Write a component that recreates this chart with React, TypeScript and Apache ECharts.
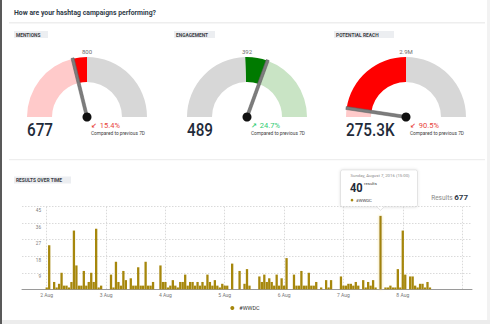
import React, { useEffect, useRef } from "react";
import * as echarts from "echarts";

// ---- data ----
const pageTitle = "How are your hashtag campaigns performing?";
const gaugeTitles = ["MENTIONS", "ENGAGEMENT", "POTENTIAL REACH"];
const gaugeValues = [677, 489, 275300];
const gaugeTargets = [800, 392, 2900000];
const gaugeMax = [1600, 800, 5800000];
const gaugeValueLabels = ["677", "489", "275.3K"];
const gaugeTargetLabels = ["800", "392", "2.9M"];
const gaugeChanges = [-15.4, 24.7, -90.5];
const compareLabel = "Compared to previous 7D";

const seriesName = "#WWDC";
const totalResults = 677;
const yTicks = [0, 9, 18, 27, 36, 45];
const dayLabels = ["2 Aug", "3 Aug", "4 Aug", "5 Aug", "6 Aug", "7 Aug", "8 Aug"];
const axisStartHour = "2016-08-01 14:00";
const axisHourCount = 183;
const resultsStartIndex = 10; // 2 Aug 00:00
// hourly results from 2 Aug 00:00
const hourlyResults = [
  1, 24, 0, 4, 1, 3, 9, 2, 2, 1, 4, 32, 13, 2, 2, 10, 2, 4, 9, 4, 33, 1, 2, 0,
  0, 0, 8, 1, 15, 4, 2, 10, 5, 0, 6, 2, 2, 12, 2, 2, 15, 2, 2, 4, 0, 0, 13, 4,
  4, 1, 2, 5, 2, 1, 4, 4, 8, 2, 4, 4, 2, 4, 2, 4, 2, 8, 4, 2, 5, 2, 1, 3, 2, 2,
  0, 14, 0, 0, 10, 0, 3, 11, 2, 0, 0, 0, 7, 4, 8, 4, 6, 4, 2, 8, 2, 6,
  2, 17, 0, 0, 8, 2, 2, 10, 2, 2, 9, 2, 2, 4, 0, 1, 0, 5, 1, 5, 0, 0, 0, 7,
  2, 2, 3, 3, 2, 4, 2, 0, 5, 1, 4, 2, 5, 1, 0, 40, 0, 1, 1, 2, 1, 1, 11, 1,
  32, 8, 0, 7, 7, 2, 1, 3, 3, 1, 4, 1,
];
const tooltipHour = "2016-08-07 15:00";
const tooltipDate = "Sunday, August 7, 2016 (15:00)";

const FONT = "Roboto, 'DejaVu Sans', sans-serif";

function pad(n: number) {
  return n < 10 ? "0" + n : "" + n;
}

function buildHours(): string[] {
  const [d, t] = axisStartHour.split(" ");
  const [y, m, day] = d.split("-").map(Number);
  const h = Number(t.split(":")[0]);
  const start = Date.UTC(y, m - 1, day, h);
  const out: string[] = [];
  for (let i = 0; i < axisHourCount; i++) {
    const dt = new Date(start + i * 3600000);
    out.push(
      `${dt.getUTCFullYear()}-${pad(dt.getUTCMonth() + 1)}-${pad(dt.getUTCDate())} ${pad(dt.getUTCHours())}:00`
    );
  }
  return out;
}

export default function App() {
  const ref = useRef<HTMLDivElement>(null);
  useEffect(() => {
    document.body.style.margin = "0";
    if (!ref.current) return;
    const chart = echarts.init(ref.current, undefined, { renderer: "svg" });
    const hours = buildHours();
    const gold = "#a6870c";
    const centers = [
      [87, 117],
      [247, 117],
      [406, 117],
    ];
    const gaugeSeries = gaugeValues.map((v, i) => {
      const M = gaugeMax[i];
      const t = gaugeTargets[i];
      const stops =
        v < t
          ? [
              [v / M, "#ffcaca"],
              [t / M, "#ff0000"],
              [1, "#d7d7d7"],
            ]
          : [
              [t / M, "#d7d7d7"],
              [v / M, "#007a00"],
              [1, "#c9e4c5"],
            ];
      return {
        type: "gauge",
        center: centers[i],
        radius: 60,
        startAngle: 180,
        endAngle: 0,
        min: 0,
        max: M,
        axisLine: { lineStyle: { width: 25, color: stops } },
        splitLine: { show: false },
        axisTick: { show: false },
        axisLabel: { show: false },
        pointer: {
          icon: "rect",
          width: 3,
          length: "101%",
          offsetCenter: [0, 0],
          itemStyle: { color: "#7d7d7d", borderColor: "#5e5e5e", borderWidth: 0.5 },
        },
        anchor: { show: true, showAbove: true, size: 9, itemStyle: { color: "#111" } },
        title: { show: false },
        detail: { show: false },
        data: [{ value: v }],
      };
    });

    const barData = hourlyResults.map((v, i) => {
      const cat = hours[resultsStartIndex + i];
      if (cat === tooltipHour) {
        return {
          value: [cat, v],
          itemStyle: { color: "#a0820a", shadowBlur: 3, shadowColor: "rgba(240,222,140,1)" },
        };
      }
      return [cat, v];
    });

    const text = (x: number, y: number, t: string, s: any, extra: any = {}) => ({
      type: "text",
      x,
      y,
      silent: true,
      ...extra,
      style: { text: t, fontFamily: FONT, verticalAlign: "middle", align: "left", ...s },
    });

    const badgeX = [14, 174, 334];
    const badgeW = [34, 41, 60];
    const staticGraphic: any[] = [
      { type: "rect", shape: { x: 0, y: 0, width: 2, height: 324 }, style: { fill: "#595959" } },
      { type: "rect", shape: { x: 2, y: 320, width: 488, height: 4 }, style: { fill: "#ececec" } },
      { type: "rect", shape: { x: 487, y: 0, width: 3, height: 320 }, style: { fill: "#f2f2f2" } },
      text(14, 12, pageTitle, { fontSize: 7.8, fontWeight: "bold", fill: "#2f3b48" }, { scaleX: 0.88 }),
      { type: "rect", shape: { x: 9, y: 22, width: 476, height: 1.5 }, style: { fill: "#eeeeee" } },
      { type: "rect", shape: { x: 9, y: 159, width: 476, height: 1.2 }, style: { fill: "#eeeeee" } },
      { type: "rect", shape: { x: 14, y: 176.5, width: 57, height: 7 }, style: { fill: "#eceef1" } },
      text(16, 180.2, "RESULTS OVER TIME", { fontSize: 5.4, fontWeight: "bold", fill: "#3b3f45" }, { scaleX: 0.9 }),
      text(468, 197.5, `{a|Results }{b|${totalResults}}`, {
        align: "right",
        rich: {
          a: { fontSize: 6.5, fill: "#8a8a8a", fontFamily: FONT },
          b: { fontSize: 8, fontWeight: "bold", fill: "#2f3b48", fontFamily: FONT },
        },
      }),
    ];
    gaugeTitles.forEach((g, i) => {
      const [cx] = centers[i];
      staticGraphic.push(
        { type: "rect", shape: { x: badgeX[i], y: 31, width: badgeW[i], height: 7 }, style: { fill: "#eceef1" } },
        text(badgeX[i] + 2, 34.7, g, { fontSize: 5.4, fontWeight: "bold", fill: "#3b3f45" }, { scaleX: 0.9 }),
        text(cx, 51, gaugeTargetLabels[i], { fontSize: 6, fill: "#6d6d6d", align: "center" }),
        text(cx - 60, 130.5, gaugeValueLabels[i], { fontSize: 18, fontWeight: 500, fill: "#1f2b3a" }, { scaleX: 0.85 }),
        text(cx + 4, 125.8, `{a|${gaugeChanges[i] < 0 ? "↙" : "↗"}} {b|${Math.abs(gaugeChanges[i])}%}`, {
          rich: {
            a: { fontSize: 7, fontWeight: "bold", fill: gaugeChanges[i] < 0 ? "#e8443a" : "#2ecc71", fontFamily: "'DejaVu Sans'" },
            b: { fontSize: 7.5, fill: gaugeChanges[i] < 0 ? "#e8443a" : "#2ecc71", fontFamily: FONT },
          },
        }),
        text(cx + 4, 133.5, compareLabel, { fontSize: 4.8, fill: "#3d3d3d" })
      );
    });

    const buildOption = (extra: any[]) => ({
      animation: false,
      textStyle: { fontFamily: FONT },
      legend: {
        data: [seriesName],
        left: "center",
        top: 300,
        icon: "circle",
        itemWidth: 4,
        itemHeight: 4,
        textStyle: { fontSize: 5.5, color: "#333", fontFamily: FONT },
      },
      grid: { left: 22, right: 18, top: 206.7, bottom: 34.7, containLabel: false },
      xAxis: {
        type: "category",
        data: hours,
        boundaryGap: false,
        axisLine: { lineStyle: { color: "#9a9a9a", width: 1 } },
        axisTick: { show: false },
        axisLabel: {
          interval: (idx: number, v: string) => v.endsWith("00:00") && idx > 0,
          formatter: (v: string) => {
            const d = parseInt(v.slice(8, 10), 10);
            return dayLabels.find((l) => parseInt(l, 10) === d) || "";
          },
          fontSize: 5,
          color: "#777",
          margin: 3,
        },
        splitLine: {
          show: true,
          interval: (idx: number, v: string) => v.endsWith("00:00") && idx > 0,
          lineStyle: { color: "#d0d0d0", type: [1.5, 1.5], width: 0.8 },
        },
      },
      yAxis: {
        type: "value",
        min: yTicks[0],
        max: yTicks[yTicks.length - 1],
        interval: yTicks[1] - yTicks[0],
        axisLine: { show: false },
        axisTick: { show: false },
        axisLabel: {
          inside: true,
          align: "right",
          margin: 19,
          verticalAlign: "top",
          padding: [1.5, 0, 0, 0],
          fontSize: 4.6,
          color: "#7a7a7a",
          showMinLabel: false,
        },
        splitLine: { lineStyle: { color: "#d0d0d0", type: [1.5, 1.5], width: 0.8 } },
      },
      series: [
        ...gaugeSeries,
        {
          type: "bar",
          name: seriesName,
          data: barData,
          barWidth: 2.3,
          itemStyle: { color: gold },
          emphasis: { disabled: true },
        },
      ],
      graphic: [...staticGraphic, ...extra],
    });

    chart.setOption(buildOption([]) as any);
    const tipIdx = hourlyResults.findIndex((_, i) => hours[resultsStartIndex + i] === tooltipHour);
    const tipVal = hourlyResults[tipIdx];
    const pt = chart.convertToPixel({ xAxisIndex: 0, yAxisIndex: 0 } as any, [tooltipHour, tipVal]) as any;
    const bx = pt[0] - 40;
    const by = pt[1] - 46;
    const tip: any[] = [
      {
        type: "group",
        x: bx,
        y: by,
        silent: true,
        children: [
          {
            type: "rect",
            shape: { x: 0, y: 0, width: 77, height: 37, r: 2 },
            style: { fill: "#fff", stroke: "#dcdcdc", lineWidth: 0.8, shadowBlur: 3, shadowColor: "rgba(0,0,0,0.12)" },
          },
          {
            type: "polygon",
            shape: { points: [[36, 36.6], [40, 40.5], [44, 36.6]] },
            style: { fill: "#fff", stroke: "#dcdcdc", lineWidth: 0.8 },
          },
          { type: "rect", shape: { x: 36.5, y: 35.5, width: 7, height: 1.5 }, style: { fill: "#fff" } },
          text(10, 6, tooltipDate, { fontSize: 4.3, fill: "#8a8a8a" }),
          text(9.5, 17.5, String(tipVal), { fontSize: 13, fontWeight: "bold", fill: "#1f2b3a" }, { scaleX: 0.85 }),
          text(23.5, 13.5, "results", { fontSize: 4.3, fill: "#444" }),
          { type: "circle", shape: { cx: 11.5, cy: 30.3, r: 1.3 }, style: { fill: gold } },
          text(15.5, 30.3, seriesName, { fontSize: 4.3, fill: "#444" }),
        ],
      },
    ];
    chart.setOption(buildOption(tip) as any, true);
    return () => chart.dispose();
  }, []);
  return <div ref={ref} style={{ width: 490, height: 324, background: "#fff" }} />;
}
